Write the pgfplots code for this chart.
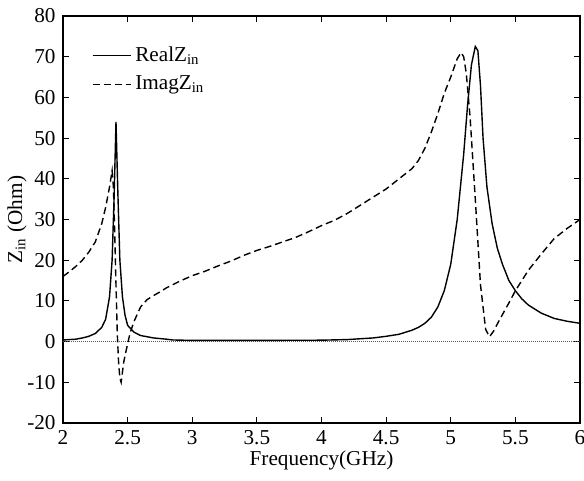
\documentclass[border=0pt]{standalone}
\usepackage{pgfplots}
\pgfplotsset{compat=1.18}
\usepackage{fontspec}
\setmainfont{Liberation Serif}
\begin{document}
\fontsize{10.6}{12.7}\selectfont
\begin{tikzpicture}
\begin{axis}[
  name=ax,
  scale only axis,
  width=258.5pt, height=203.5pt,
  xmin=2, xmax=6, ymin=-20, ymax=80,
  xtick={2,2.5,...,6}, ytick={-20,-10,...,80},
  xticklabels={2,2.5,3,3.5,4,4.5,5,5.5,6},
  tick align=inside, major tick length=3pt,
  tick style={black, line width=0.5pt},
  axis line style={line width=0.6pt},
  /pgf/number format/assume math mode=true,
  ticklabel style={font=\fontsize{10.6}{12.7}\selectfont},
  xlabel={Frequency(GHz)}, ylabel={Z\textsubscript{in} (Ohm)},
  xlabel style={at={(axis description cs:0.5,-0.104)}, anchor=base},
  ylabel style={at={(axis description cs:-0.0793,0.5)}, anchor=base},
  legend style={draw=none, fill=none, at={(0.0435,0.945)}, anchor=north west, row sep=1.5pt,
    font=\fontsize{10.6}{12.7}\selectfont,
    every odd column/.style={column sep=2.5pt}},
  legend cell align=left,
  legend image code/.code={\draw[#1] (0pt,0pt) -- (19pt,0pt);},
]
\addplot[line width=0.8pt, black!65, dash pattern=on 0.5pt off 0.5pt, forget plot] coordinates {(2,0) (6,0)};
\addplot[black, line width=0.7pt] coordinates {
(2.0,0.4) (2.1,0.6) (2.15,0.9) (2.2,1.3) (2.25,2) (2.3,3.5) (2.33,5.5) (2.36,11) (2.38,20) (2.395,35) (2.41,54) (2.425,36) (2.44,20) (2.46,11) (2.48,6.5) (2.5,4) (2.55,2.3) (2.6,1.5) (2.7,0.9) (2.8,0.6) (2.85,0.4) (3.0,0.3) (3.5,0.3) (4.0,0.35) (4.2,0.5) (4.4,0.9) (4.5,1.3) (4.6,1.8) (4.7,2.8) (4.75,3.5) (4.8,4.5) (4.85,6) (4.9,8.5) (4.95,12.5) (5.0,19) (5.05,30) (5.1,46) (5.13,58) (5.16,68) (5.19,72.5) (5.21,71.5) (5.23,63) (5.25,50) (5.28,38) (5.32,29) (5.36,23) (5.4,19) (5.45,15) (5.5,12.5) (5.55,10.5) (5.6,9) (5.7,7) (5.8,5.7) (5.9,5) (6.0,4.5)
};
\addlegendentry{RealZ\textsubscript{in}}
\addplot[black, line width=0.7pt, dash pattern=on 3.5pt off 2pt] coordinates {
(2.0,16) (2.05,17.2) (2.1,18.5) (2.15,20) (2.2,22) (2.25,24.5) (2.3,29) (2.33,33) (2.36,38) (2.38,42) (2.39,38) (2.40,27) (2.41,14) (2.42,2) (2.43,-5) (2.44,-9) (2.45,-10) (2.47,-5) (2.5,-0.5) (2.52,2.2) (2.55,5) (2.6,8.5) (2.65,10.3) (2.7,11.3) (2.75,12.2) (2.8,13.2) (2.9,14.8) (3.0,16.2) (3.1,17.3) (3.2,18.6) (3.3,19.8) (3.4,21.2) (3.5,22.4) (3.6,23.4) (3.7,24.5) (3.8,25.6) (3.9,27) (4.0,28.5) (4.1,29.8) (4.2,31.5) (4.3,33.5) (4.4,35.5) (4.5,37.5) (4.6,40) (4.7,42.5) (4.75,44.5) (4.8,47.5) (4.85,51.5) (4.9,56) (4.95,61) (5.0,65) (5.05,69.5) (5.08,71) (5.1,70) (5.12,66) (5.15,55) (5.19,35) (5.23,14) (5.27,3) (5.3,1.2) (5.33,2.5) (5.38,5.5) (5.45,9.5) (5.5,12.5) (5.6,17.5) (5.7,21.5) (5.8,25.3) (5.9,27.8) (6.0,30)
};
\addlegendentry{ImagZ\textsubscript{in}}
\end{axis}
\pgfresetboundingbox
\path[use as bounding box] ([shift={(-31.5pt,-28.5pt)}]ax.south west) rectangle ([shift={(2pt,8pt)}]ax.north east);
\end{tikzpicture}
\end{document}
